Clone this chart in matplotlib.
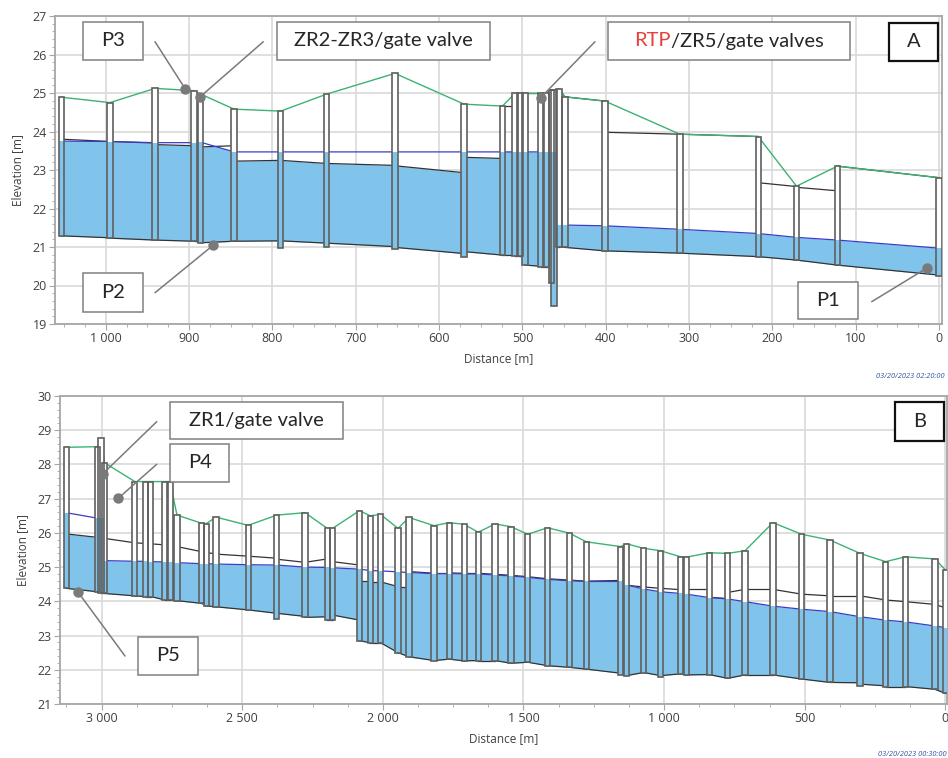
import numpy as np
import matplotlib
matplotlib.use("Agg")
import matplotlib.pyplot as plt
from matplotlib.patches import Rectangle
from matplotlib.ticker import MultipleLocator, FuncFormatter

W, H, DPI = 948, 758, 100

# ---------------- Panel A data (manholes) ----------------
a_dist = [1053, 995, 941, 894, 886, 846, 790, 735, 653, 570, 524, 509, 503, 497,
          478, 471, 465, 462, 456, 449, 401, 311, 217, 171, 122, 0]
a_ground = [24.89, 24.75, 25.12, 25.06, 24.97, 24.58, 24.53, 24.97, 25.51, 24.71,
            24.66, 24.99, 24.99, 24.99, 24.99, 24.99, 25.08, 25.08, 25.10, 24.90,
            24.79, 23.93, 23.87, 22.58, 23.10, 22.80]
a_bottom = [21.29, 21.23, 21.18, 21.15, 21.11, 21.15, 20.97, 21.01, 20.94, 20.73,
            20.79, 20.77, 20.77, 20.53, 20.49, 20.49, 20.06, 19.47, 21.01, 20.99,
            20.90, 20.84, 20.75, 20.66, 20.53, 20.25]
a_water = [23.75, 23.74, 23.71, 23.71, 23.72, 23.47, 23.47, 23.47, 23.47, 23.47,
           23.47, 23.47, 23.47, 23.47, 23.47, 23.47, 23.47, 23.47, 21.57, 21.57,
           21.55, 21.46, 21.35, 21.25, 21.18, 20.97]
# Panel A pipes (between consecutive manholes)
a_inv_up = [21.29, 21.23, 21.18, 21.15, 21.11, 21.15, 21.16, 21.10, 20.99, 20.88,
            20.79, 20.77, 20.77, 20.53, 20.49, 20.49, 20.06, 21.01, 21.01, 20.99,
            20.90, 20.84, 20.75, 20.66, 20.53]
a_inv_dn = [21.24, 21.18, 21.15, 21.12, 21.15, 21.16, 21.10, 21.01, 20.83, 20.79,
            20.79, 20.77, 20.77, 20.50, 20.49, 20.49, 19.47, 21.01, 20.99, 20.90,
            20.84, 20.75, 20.66, 20.53, 20.27]
a_cr_up = [23.80, 23.74, 23.66, 23.63, 23.60, 23.23, 23.25, 23.17, 23.11, 23.33,
           24.66, 24.99, 24.99, 24.99, 24.99, 24.99, 25.08, 25.08, 25.10, 24.90,
           23.98, 23.93, 22.67, 22.55, 23.10]
a_cr_dn = [23.74, 23.70, 23.63, 23.62, 23.63, 23.25, 23.17, 23.12, 22.93, 23.30,
           24.66, 24.99, 24.99, 24.99, 24.99, 25.08, 25.08, 25.10, 24.90, 24.79,
           23.93, 23.87, 22.57, 22.46, 22.80]

# ---------------- Panel B data (manholes) ----------------
b_dist = [3126, 3015, 3002, 2990, 2882, 2843, 2825, 2775, 2757, 2732,
          2644, 2628, 2593, 2479, 2377, 2277, 2197, 2179, 2083, 2045,
          2008, 1946, 1907, 1818, 1764, 1711, 1661, 1601, 1544, 1485,
          1414, 1336, 1277, 1155, 1133, 1073, 1013, 941, 921, 839,
          774, 712, 613, 511, 410, 303, 212, 142, 37, 0]
b_ground = [28.50, 28.52, 28.76, 28.05, 27.50, 27.50, 27.50, 27.50, 27.50, 26.52,
            26.28, 26.27, 26.46, 26.22, 26.52, 26.59, 26.13, 26.13, 26.65, 26.50,
            26.54, 26.13, 26.45, 26.21, 26.30, 26.25, 26.02, 26.26, 26.18, 25.96,
            26.15, 25.99, 25.74, 25.60, 25.68, 25.55, 25.48, 25.30, 25.29, 25.42,
            25.40, 25.48, 26.30, 25.96, 25.79, 25.40, 25.16, 25.30, 25.24, 24.92]
b_bottom = [24.38, 24.28, 24.25, 24.25, 24.16, 24.14, 24.14, 24.04, 24.04, 24.02,
            23.94, 23.87, 23.84, 23.75, 23.47, 23.53, 23.45, 23.45, 22.85, 22.79,
            22.79, 22.50, 22.38, 22.27, 22.31, 22.26, 22.27, 22.27, 22.19, 22.22,
            22.12, 22.07, 22.02, 21.85, 21.83, 21.92, 21.80, 21.88, 21.85, 21.85,
            21.75, 21.85, 21.85, 21.73, 21.63, 21.53, 21.51, 21.51, 21.43, 21.31]
b_water = [26.59, 26.43, 26.43, 25.19, 25.17, 25.17, 25.16, 25.15, 25.14, 25.13,
           25.10, 25.10, 25.09, 25.07, 25.06, 25.00, 24.99, 24.98, 24.94, 24.90,
           24.89, 24.86, 24.84, 24.81, 24.81, 24.80, 24.80, 24.77, 24.74, 24.70,
           24.64, 24.60, 24.58, 24.58, 24.48, 24.36, 24.28, 24.23, 24.21, 24.11,
           24.07, 23.99, 23.86, 23.77, 23.70, 23.55, 23.45, 23.40, 23.28, 23.23]
b_inv_up = [24.38, 24.28, 24.25, 24.23, 24.16, 24.14, 24.14, 24.04, 24.04, 24.02,
            23.94, 23.87, 23.84, 23.75, 23.65, 23.53, 23.45, 23.60, 22.85, 22.79,
            22.79, 22.50, 22.38, 22.27, 22.31, 22.26, 22.27, 22.27, 22.19, 22.22,
            22.12, 22.07, 22.02, 21.88, 21.83, 21.92, 21.83, 21.88, 21.85, 21.86,
            21.75, 21.85, 21.85, 21.73, 21.63, 21.58, 21.51, 21.51, 21.43]
b_inv_dn = [24.28, 24.25, 24.25, 24.16, 24.14, 24.14, 24.04, 24.04, 24.02, 23.94,
            23.87, 23.84, 23.75, 23.65, 23.56, 23.55, 23.45, 23.45, 22.79, 22.79,
            22.50, 22.38, 22.27, 22.31, 22.26, 22.27, 22.27, 22.19, 22.22, 22.12,
            22.07, 22.02, 21.90, 21.83, 21.92, 21.83, 21.88, 21.85, 21.86, 21.75,
            21.85, 21.85, 21.73, 21.63, 21.62, 21.53, 21.51, 21.43, 21.31]
b_cr_up = [25.97, 25.87, 25.85, 25.84, 25.71, 25.69, 25.68, 25.65, 25.64, 25.60,
           25.45, 25.43, 25.38, 25.32, 25.23, 25.14, 25.24, 25.16, 24.60, 24.57,
           24.57, 24.41, 24.87, 24.83, 24.83, 24.82, 24.82, 24.79, 24.76, 24.72,
           24.66, 24.62, 24.59, 24.62, 24.47, 24.42, 24.38, 24.34, 24.35, 24.12,
           24.26, 24.35, 24.35, 24.21, 24.16, 24.16, 24.04, 23.99, 23.91]
b_cr_dn = [25.87, 25.85, 25.84, 25.71, 25.69, 25.68, 25.65, 25.64, 25.60, 25.45,
           25.43, 25.38, 25.32, 25.26, 25.14, 25.24, 25.24, 25.06, 24.60, 24.57,
           24.43, 24.41, 24.82, 24.83, 24.82, 24.82, 24.79, 24.76, 24.72, 24.66,
           24.62, 24.59, 24.61, 24.60, 24.42, 24.38, 24.34, 24.35, 24.35, 24.08,
           24.35, 24.35, 24.21, 24.16, 24.16, 24.04, 23.99, 23.91, 23.81]

# ---------------- annotation labels ----------------
a_point_labels = ["P3", "ZR2-ZR3/gate valve", "P2", "P1"]
a_point_xy = [(904.5, 25.10), (886.8, 24.90), (870.9, 21.05), (14.8, 20.45)]
b_point_labels = ["ZR1/gate valve", "P4", "P5"]
b_point_xy = [(2996.4, 27.72), (2941, 27.01), (3083, 24.26)]
rtp_xy = (478, 24.88)
timestamp_a = "03/20/2023 02:20:00"
timestamp_b = "03/20/2023 00:30:00"

# ---------------- style ----------------
FILL = "#80c4ec"
PIPE = "#333333"
WL = "#3c3cc8"
GREEN = "#3cb371"
MH = "#5f5f5f"
GRID = "#d9d9d9"
SPINE = "#a6a6a6"
TXT = "#404040"
LEAD = "#7a7a7a"

plt.rcParams["font.family"] = ["Open Sans", "DejaVu Sans"]

fig = plt.figure(figsize=(W / DPI, H / DPI), dpi=DPI)


def ax_rect(x0, y0, x1, y1):
    return [x0 / W, 1 - y1 / H, (x1 - x0) / W, (y1 - y0) / H]


def fmt_thousands(v, pos):
    return f"{int(round(v)):,}".replace(",", " ")


def draw_profile(ax, dist, ground, bottom, water, inv_up, inv_dn, cr_up, cr_dn, mhw):
    n = len(dist)
    t = np.linspace(0, 1, 40)
    for i in range(n - 1):
        xs = dist[i] + (dist[i + 1] - dist[i]) * t
        inv = inv_up[i] + (inv_dn[i] - inv_up[i]) * t
        cr = cr_up[i] + (cr_dn[i] - cr_up[i]) * t
        wl = water[i] + (water[i + 1] - water[i]) * t
        top = np.maximum(np.minimum(cr, wl), inv)
        ax.fill_between(xs, inv, top, color=FILL, lw=0, zorder=2)
        ax.plot([dist[i], dist[i + 1]], [inv_up[i], inv_dn[i]], color=PIPE, lw=0.9, zorder=3)
        ax.plot([dist[i], dist[i + 1]], [cr_up[i], cr_dn[i]], color=PIPE, lw=0.9, zorder=3)
    ax.plot(dist, water, color=WL, lw=0.9, zorder=3.4)
    ax.plot(dist, ground, color=GREEN, lw=1.0, zorder=3.5)
    for d, g, b, w in zip(dist, ground, bottom, water):
        x0 = d - mhw / 2
        ax.add_patch(Rectangle((x0, b), mhw, g - b, facecolor="white", edgecolor="none", zorder=4))
        ax.add_patch(Rectangle((x0, b), mhw, max(w - b, 0), facecolor=FILL, edgecolor="none", zorder=4.1))
        ax.add_patch(Rectangle((x0, b), mhw, g - b, facecolor="none", edgecolor=MH, lw=1.2, zorder=4.2))


def style_axes(ax, xlim, ylim, xmajor, xminor):
    ax.set_xlim(*xlim)
    ax.set_ylim(*ylim)
    ax.xaxis.set_major_locator(MultipleLocator(xmajor))
    ax.xaxis.set_minor_locator(MultipleLocator(xminor))
    ax.yaxis.set_major_locator(MultipleLocator(1))
    ax.yaxis.set_minor_locator(MultipleLocator(0.2))
    ax.xaxis.set_major_formatter(FuncFormatter(fmt_thousands))
    ax.grid(True, which="major", color=GRID, lw=1.2, zorder=0)
    ax.set_axisbelow(True)
    for s in ax.spines.values():
        s.set_color(SPINE)
        s.set_linewidth(1.3)
    ax.tick_params(which="major", length=4, color=SPINE, labelsize=9, labelcolor=TXT, pad=2)
    ax.tick_params(which="minor", length=2.5, color=SPINE)
    ax.set_ylabel("Elevation [m]", fontsize=8.5, color=TXT, labelpad=6)
    ax.set_xlabel("Distance [m]", fontsize=8.5, color=TXT, labelpad=5)


def box(px0, py0, px1, py1, text, ec="#808080", lw=1.1, fs=14.5, color="#262626"):
    fig.add_artist(Rectangle((px0 / W, 1 - py1 / H), (px1 - px0) / W, (py1 - py0) / H,
                             transform=fig.transFigure, facecolor="white", edgecolor=ec,
                             lw=lw, zorder=10))
    if text:
        fig.text((px0 + px1) / 2 / W, 1 - (py0 + py1) / 2 / H, text, ha="center", va="center",
                 fontsize=fs, color=color, family=["Lato", "DejaVu Sans"], zorder=11)


def leader(ax, xy, pxy):
    ax.annotate("", xy=xy, xycoords="data", xytext=(pxy[0], H - pxy[1]),
                textcoords="figure pixels",
                arrowprops=dict(arrowstyle="-", color=LEAD, lw=1.1, shrinkA=0, shrinkB=0),
                zorder=6, annotation_clip=False)
    ax.plot([xy[0]], [xy[1]], "o", color=LEAD, ms=6.5, zorder=7, clip_on=False)


# ---------------- Panel A ----------------
axA = fig.add_axes(ax_rect(55, 16, 942, 324))
style_axes(axA, (1061, -3.6), (19, 27), 100, 25)
draw_profile(axA, a_dist, a_ground, a_bottom, a_water, a_inv_up, a_inv_dn, a_cr_up, a_cr_dn, 6.4)

# ---------------- Panel B ----------------
axB = fig.add_axes(ax_rect(60, 396, 947, 704))
style_axes(axB, (3148, -6), (21, 30), 500, 125)
draw_profile(axB, b_dist, b_ground, b_bottom, b_water, b_inv_up, b_inv_dn, b_cr_up, b_cr_dn, 18.5)

# leaders and boxes, panel A
leader(axA, a_point_xy[0], (155, 41.7))
leader(axA, a_point_xy[1], (263.3, 41.7))
leader(axA, a_point_xy[2], (155, 292.7))
leader(axA, a_point_xy[3], (871.7, 301.7))
leader(axA, rtp_xy, (595, 41.7))
box(82.7, 21.7, 142.7, 60, a_point_labels[0])
box(276.7, 21.7, 490, 60, a_point_labels[1])
box(82.7, 273.3, 142.7, 311.7, a_point_labels[2])
box(798.3, 281.7, 858.3, 319.3, a_point_labels[3])
box(608.3, 21.7, 850, 60, "")
box(889.3, 22.7, 937.7, 61, "A", ec="#111111", lw=1.6)

# two-colour label "RTP/ZR5/gate valves"
fig.canvas.draw()
rend = fig.canvas.get_renderer()
t1 = fig.text(0, 1 - 41 / H, "RTP", ha="left", va="center", fontsize=14.5,
              color="#e8403a", family=["Lato", "DejaVu Sans"], zorder=11)
t2 = fig.text(0, 1 - 41 / H, "/ZR5/gate valves", ha="left", va="center", fontsize=14.5,
              color="#262626", family=["Lato", "DejaVu Sans"], zorder=11)
w1 = t1.get_window_extent(rend).width
w2 = t2.get_window_extent(rend).width
start = (608.3 + 850) / 2 - (w1 + w2) / 2
t1.set_x(start / W)
t2.set_x((start + w1) / W)

# leaders and boxes, panel B
leader(axB, b_point_xy[0], (156.7, 421.7))
leader(axB, b_point_xy[1], (156.7, 464.3))
leader(axB, b_point_xy[2], (125, 656))
box(170, 401.7, 343.3, 439.3, b_point_labels[0])
box(170, 444.3, 229.3, 481.7, b_point_labels[1])
box(138.3, 636.7, 198.3, 675, b_point_labels[2])
box(895.3, 402, 944.3, 441, "B", ec="#111111", lw=1.6)

# timestamps
fig.text(945 / W, 1 - 376 / H, timestamp_a, ha="right", va="center", fontsize=5.3,
         style="italic", color="#3050a0")
fig.text(878 / W, 1 - 755 / H, timestamp_b, ha="left", va="center", fontsize=5.3,
         style="italic", color="#3050a0")

fig.savefig("out.png", dpi=DPI)
